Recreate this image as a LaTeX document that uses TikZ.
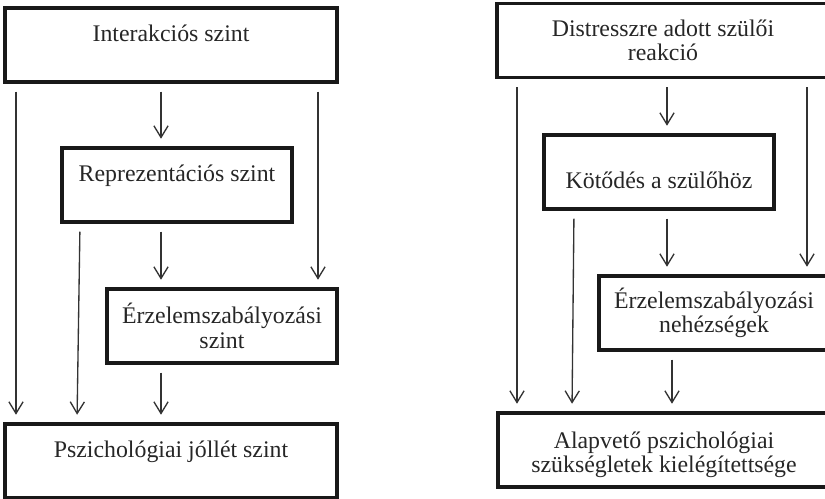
\documentclass[tikz,border=0pt]{standalone}
\usepackage{fontspec}
\setmainfont{Liberation Serif}
\usetikzlibrary{arrows.meta}

\begin{document}
\begin{tikzpicture}[x=0.6pt,y=-0.6pt,
    szint/.style={draw=black!90,line width=2.1pt,minimum height=44.4pt,
      inner sep=2pt,font=\fontsize{14.3}{14.6}\selectfont,text=black!85},
    szeles/.style={szint,minimum width=199.2pt},
    keskeny/.style={szint,minimum width=138pt},
    ketsor/.style={align=center},
    fent/.style={text height=10pt,text depth=13.6pt},
    lent/.style={text height=24.4pt,text depth=4pt},
    nyil/.style={draw=black!80,line width=0.8pt,-{Straight Barb[length=7pt,width=8.5pt]},
      shorten <=4.8pt,shorten >=4.5pt}]
  \useasboundingbox (0,0) rectangle (825,499);
  \clip (0,0) rectangle (825,499);

  % Bal oldali modell
  \node[szeles,fent] (inter) at (171,45) {Interakciós szint};
  \node[keskeny,fent] (repr) at (177,185) {Reprezentációs szint};
  \node[keskeny,ketsor] (erz) at (222,326) {Érzelemszabályozási\\szint};
  \node[szeles,fent] (jol) at (171,461) {Pszichológiai jóllét szint};

  \coordinate (b1) at (16,0);
  \coordinate (b2) at (80,0);
  \coordinate (b2a) at (77,0);
  \coordinate (b3) at (161,0);
  \coordinate (b4) at (318,0);

  \draw[nyil] (inter.south -| b1) -- (jol.north -| b1);
  \draw[nyil] (repr.south -| b2) -- (jol.north -| b2a);
  \draw[nyil] (inter.south -| b3) -- (repr.north -| b3);
  \draw[nyil] (repr.south -| b3) -- (erz.north -| b3);
  \draw[nyil] (erz.south -| b3) -- (jol.north -| b3);
  \draw[nyil] (inter.south -| b4) -- (erz.north -| b4);

  % Jobb oldali modell
  \node[szeles,ketsor] (dist) at (663,40.5) {Distresszre adott szülői\\reakció};
  \node[keskeny,lent] (kot) at (659,172) {Kötődés a szülőhöz};
  \node[keskeny,ketsor] (erzn) at (714,313) {Érzelemszabályozási\\nehézségek};
  \node[szeles,ketsor] (alap) at (664,450) {\rule{0pt}{16pt}Alapvető pszichológiai\\szükségletek kielégítettsége};

  \coordinate (j1) at (517,0);
  \coordinate (j2) at (574,0);
  \coordinate (j2a) at (572,0);
  \coordinate (j3) at (667,0);
  \coordinate (j3a) at (672,0);
  \coordinate (j4) at (807,0);

  \draw[nyil] (dist.south -| j1) -- (alap.north -| j1);
  \draw[nyil] (kot.south -| j2) -- (alap.north -| j2a);
  \draw[nyil] (dist.south -| j3) -- (kot.north -| j3);
  \draw[nyil] (kot.south -| j3) -- (erzn.north -| j3);
  \draw[nyil] (erzn.south -| j3a) -- (alap.north -| j3a);
  \draw[nyil] (dist.south -| j4) -- (erzn.north -| j4);
\end{tikzpicture}
\end{document}
